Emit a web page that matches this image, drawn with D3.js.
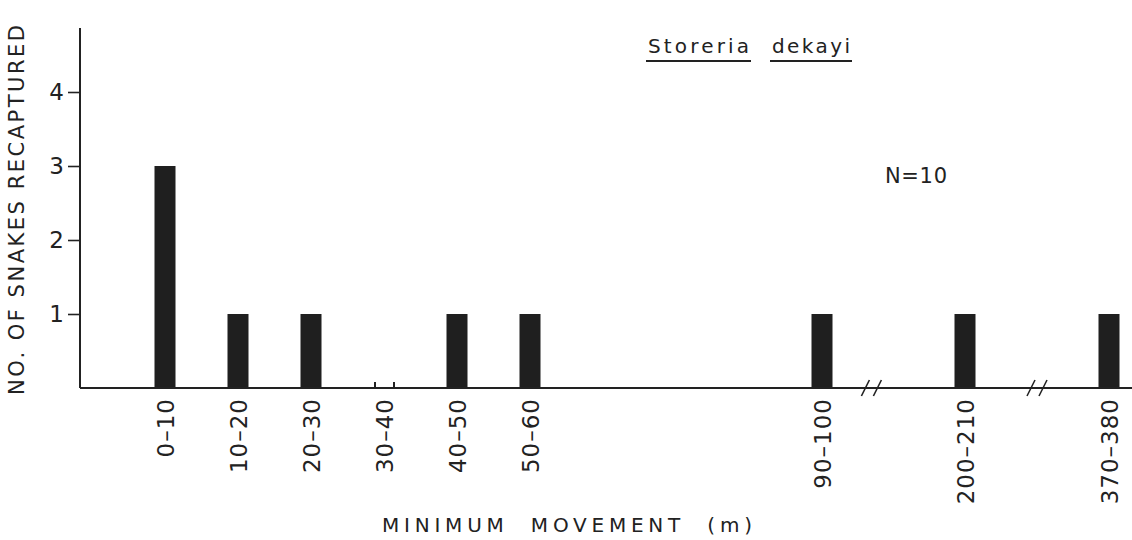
<!DOCTYPE html>
<html><head><meta charset="utf-8">
<script src="https://cdn.jsdelivr.net/npm/d3@7"></script>
<style>
html,body{margin:0;padding:0;background:#fff;}
svg{display:block;}
text{font-family:"DejaVu Sans","Liberation Sans",sans-serif;fill:#222;}
</style></head>
<body>
<svg id="chart" width="1132" height="540"></svg>
<script>
const categories = ["0-10","10-20","20-30","30-40","40-50","50-60","90-100","200-210","370-380"];
const counts = [3,1,1,0,1,1,1,1,1];
const yTicks = [1,2,3,4];
const breakValues = [128, 285];
const title = ["Storeria","dekayi"];
const nLabel = "N=10";
const xTitle = "MINIMUM  MOVEMENT  (m)";
const yTitle = "NO. OF SNAKES RECAPTURED";

const svg = d3.select("#chart");
const lower = categories.map(c => +c.split("-")[0]);

// broken axis: piecewise-linear scale
const x = d3.scaleLinear().domain([0, 90, 200, 370]).range([165, 822, 965, 1109]);
const y = d3.scaleLinear().domain([0, 4]).range([388, 92]);
const axisX = 80, barW = 21;

// bars
svg.selectAll("rect.bar").data(categories).join("rect")
  .attr("class","bar")
  .attr("x", (d,i) => x(lower[i]) - barW/2)
  .attr("y", (d,i) => y(counts[i]))
  .attr("width", barW)
  .attr("height", (d,i) => y(0) - y(counts[i]))
  .attr("fill", "#1f1f1f");

// zero-count marker ticks (30-40)
categories.forEach((c,i) => {
  if (counts[i] === 0) {
    [-9, 10].forEach(off => {
      svg.append("line").attr("x1", x(lower[i]) + off).attr("x2", x(lower[i]) + off)
        .attr("y1", y(0)).attr("y2", y(0) - 6).attr("stroke","#222").attr("stroke-width",2);
    });
  }
});

// x baseline
svg.append("line").attr("x1", axisX).attr("x2", 1132).attr("y1", y(0)).attr("y2", y(0))
  .attr("stroke","#222").attr("stroke-width",2);

// break marks
breakValues.forEach(v => {
  const bx = x(v);
  [-6, 6].forEach(off => {
    svg.append("line").attr("x1", bx + off - 4).attr("x2", bx + off + 4)
      .attr("y1", y(0) + 8).attr("y2", y(0) - 8).attr("stroke","#222").attr("stroke-width",1.6);
  });
});

// y axis
svg.append("line").attr("x1", axisX).attr("x2", axisX).attr("y1", 28).attr("y2", y(0))
  .attr("stroke","#222").attr("stroke-width",2);
const yAxis = d3.axisLeft(y).tickValues(yTicks).tickSize(12).tickPadding(4).tickFormat(d3.format("d"));
const gy = svg.append("g").attr("transform", `translate(${axisX},0)`).call(yAxis);
gy.select(".domain").remove();
gy.selectAll(".tick line").attr("stroke","#222").attr("stroke-width",1.6);
gy.selectAll(".tick text").attr("font-size", 23).attr("fill","#222")
  .style("font-family","'DejaVu Sans','Liberation Sans',sans-serif");

// x category labels (rotated)
svg.selectAll("text.xl").data(categories).join("text")
  .attr("class","xl")
  .attr("transform", (d,i) => `translate(${x(lower[i]) + 9},398) rotate(-90)`)
  .attr("text-anchor","end")
  .attr("font-size", 23)
  .attr("letter-spacing", 1)
  .text(d => d.replace("-", "\u2013"));

// axis titles
svg.append("text").attr("x", 382).attr("y", 532)
  .attr("font-size", 20).attr("textLength", 370).attr("lengthAdjust","spacing")
  .attr("xml:space","preserve").text(xTitle);
svg.append("text").attr("transform", "translate(24,395) rotate(-90)")
  .attr("font-size", 21).attr("textLength", 370).attr("lengthAdjust","spacing").text(yTitle);

// species title with underlines
const t1 = svg.append("text").attr("x", 648).attr("y", 53).attr("font-size", 20)
  .attr("textLength", 101).attr("lengthAdjust","spacing").text(title[0]);
const t2 = svg.append("text").attr("x", 772).attr("y", 53).attr("font-size", 20)
  .attr("textLength", 78).attr("lengthAdjust","spacing").text(title[1]);
[t1, t2].forEach(t => {
  const b = t.node().getBBox();
  svg.append("line").attr("x1", b.x - 2).attr("x2", b.x + b.width + 2).attr("y1", 61).attr("y2", 61)
    .attr("stroke","#222").attr("stroke-width",1.8);
});

svg.append("text").attr("x", 885).attr("y", 183).attr("font-size", 21)
  .attr("textLength", 62).attr("lengthAdjust","spacing").text(nLabel);
</script>
</body></html>
